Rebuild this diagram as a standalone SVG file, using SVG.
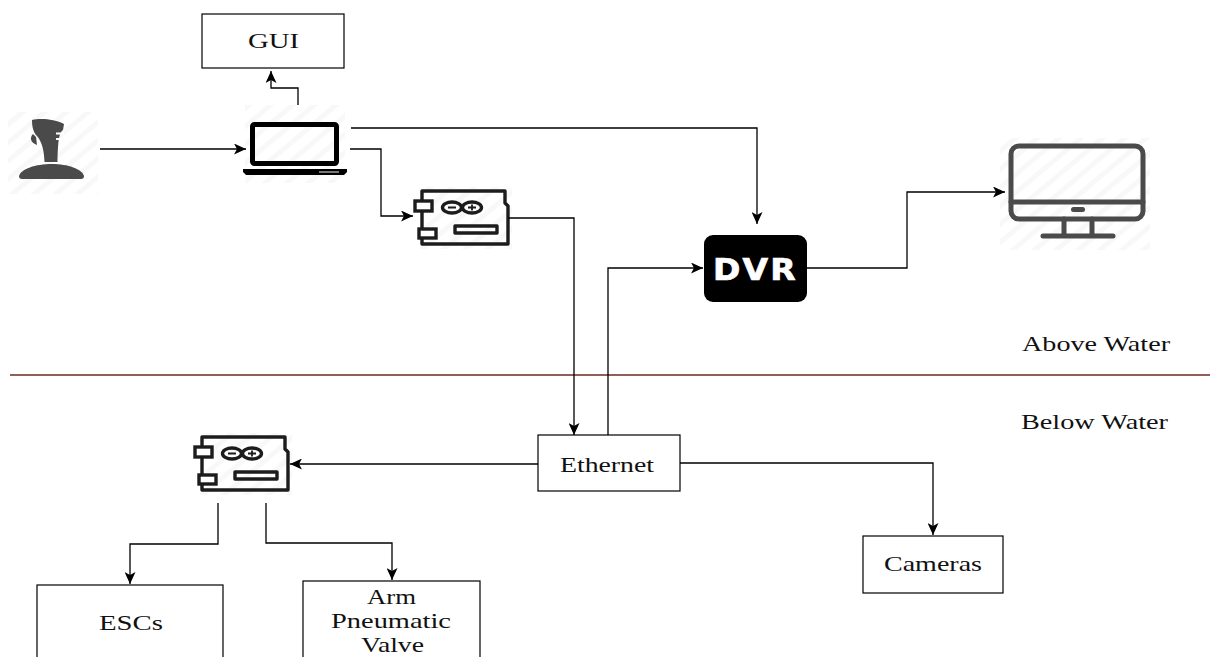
<svg xmlns="http://www.w3.org/2000/svg" width="1210" height="657" viewBox="0 0 1210 657">
<style>
.box{fill:#fff;stroke:#000;stroke-width:1.2}
.t{font-family:"Liberation Serif","Times New Roman",serif;font-size:21px;fill:#111;text-anchor:start}
.c{fill:none;stroke:#000;stroke-width:1.3}
.hatch{fill:url(#h)}
.ard{fill:none;stroke:#1c1c1c;stroke-width:3.4;stroke-linejoin:round}
.ardb{fill:#fff;stroke:#1c1c1c;stroke-width:3.4}
.mon{fill:none;stroke:#4a4a4a;stroke-width:5;stroke-linejoin:round;stroke-linecap:round}
</style>
<defs>
<pattern id="h" width="14" height="14" patternUnits="userSpaceOnUse" patternTransform="rotate(-40)">
<rect width="14" height="14" fill="#fff"/>
<rect width="14" height="5" fill="#f8f8f8"/>
</pattern>
<marker id="a" viewBox="0 0 13 11" refX="12" refY="5.500" markerWidth="13" markerHeight="11" markerUnits="userSpaceOnUse" orient="auto">
<path d="M0 0L12 5.500L0 11L3 5.500Z" fill="#000"/>
</marker>
<g id="ardIcon">
<rect x="-2" y="-4" width="92" height="62" class="hatch"/>
<path class="ard" d="M0 0H83V12L86 15V53H0Z"/>
<rect class="ardb" x="-7" y="10" width="17" height="10"/>
<rect class="ardb" x="-3" y="38" width="17" height="9"/>
<ellipse class="ard" cx="30" cy="16.500" rx="9.500" ry="5.500" stroke-width="3"/>
<ellipse class="ard" cx="50" cy="16.500" rx="9.500" ry="5.500" stroke-width="3"/>
<path d="M26 16.500h8M46 16.500h8M50 13.500v6" stroke="#1c1c1c" stroke-width="1.800" fill="none"/>
<rect class="ard" x="33" y="35" width="42" height="7"/>
</g>
</defs>

<line id="waterline" x1="10" y1="375" x2="1210" y2="375" stroke="#6b2a22" stroke-width="1.300"/>

<g id="gui"><rect class="box" x="202" y="14" width="142" height="54"/><text class="t" x="248" y="48" textLength="51" lengthAdjust="spacingAndGlyphs">GUI</text></g>

<g id="joystick">
<rect x="8" y="112" width="90" height="82" class="hatch"/>
<path d="M32 120C40 118 55 119 64 124L63 130C59 133 58 140 57.500 162H44.500C44 150 42 142 37 136C33 132 32 126 32 120Z" fill="#4a4a4a"/>
<path d="M33 134C29 138 31 143 37 145L36 137Z" fill="#4a4a4a"/>
<path d="M56 133.500H64M56 139H64" stroke="#fff" stroke-width="2"/>
<path d="M19 176C21 169 35 164 52 164C68 164 82 169 84 176C84 178 83 179 81 179H22C20 179 19 178 19 176Z" fill="#4a4a4a"/>
</g>

<g id="laptop">
<rect x="245" y="105" width="100" height="78" class="hatch"/>
<rect x="252.500" y="124.500" width="84" height="39" fill="none" stroke="#000" stroke-width="5" rx="2"/>
<path d="M243 169H347V172L344 175H246L243 172Z" fill="#000"/>
<rect x="319" y="171" width="20" height="2" fill="#777"/>
</g>

<g id="arduino-top"><use href="#ardIcon" x="422" y="191"/></g>

<g id="dvr">
<rect x="704" y="235" width="103" height="67" rx="9" fill="#000"/>
<text x="713" y="280" font-family="'DejaVu Sans',sans-serif" font-weight="700" font-size="30" letter-spacing="2" fill="#fff" stroke="#fff" stroke-width="0.700" textLength="85" lengthAdjust="spacingAndGlyphs">DVR</text>
</g>

<g id="monitor">
<rect x="1000" y="138" width="150" height="112" class="hatch"/>
<rect class="mon" x="1011" y="146" width="132" height="73" rx="8"/>
<path class="mon" d="M1011 202H1143"/>
<rect x="1071" y="207" width="14" height="5" rx="2.500" fill="#4a4a4a"/>
<path class="mon" d="M1064 219V236M1092 219V236M1043 236H1113"/>
</g>

<g id="above"><text class="t" x="1022" y="351" textLength="148" lengthAdjust="spacingAndGlyphs">Above Water</text></g>
<g id="below"><text class="t" x="1021" y="429" textLength="147" lengthAdjust="spacingAndGlyphs">Below Water</text></g>

<g id="ethernet"><rect class="box" x="538" y="435" width="142" height="56"/><text class="t" x="560" y="472" textLength="94" lengthAdjust="spacingAndGlyphs">Ethernet</text></g>
<g id="arduino-bottom"><use href="#ardIcon" x="202" y="437"/></g>
<g id="cameras"><rect class="box" x="863" y="536" width="140" height="57"/><text class="t" x="884" y="571" textLength="98" lengthAdjust="spacingAndGlyphs">Cameras</text></g>
<g id="escs"><rect class="box" x="37" y="585" width="186" height="90"/><text class="t" x="99" y="630" textLength="64" lengthAdjust="spacingAndGlyphs">ESCs</text></g>
<g id="arm"><rect class="box" x="303" y="581" width="177" height="90"/><text class="t" x="367" y="604" textLength="49" lengthAdjust="spacingAndGlyphs">Arm</text><text class="t" x="331" y="628" textLength="120" lengthAdjust="spacingAndGlyphs">Pneumatic</text><text class="t" x="361" y="652" textLength="63" lengthAdjust="spacingAndGlyphs">Valve</text></g>

<g id="connectors">
<path class="c" d="M298 105V88H271V71" marker-end="url(#a)"/>
<path class="c" d="M100 149H246" marker-end="url(#a)"/>
<path class="c" d="M351 128H757V224" marker-end="url(#a)"/>
<path class="c" d="M350 149H381V216H413" marker-end="url(#a)"/>
<path class="c" d="M508 218H574V435" marker-end="url(#a)"/>
<path class="c" d="M608 435V268H703" marker-end="url(#a)"/>
<path class="c" d="M807 268H907V192H1005" marker-end="url(#a)"/>
<path class="c" d="M538 464H290" marker-end="url(#a)"/>
<path class="c" d="M680 463H933V535" marker-end="url(#a)"/>
<path class="c" d="M218 503V544H130V584" marker-end="url(#a)"/>
<path class="c" d="M266 503V543H392V580" marker-end="url(#a)"/>
</g>
</svg>
